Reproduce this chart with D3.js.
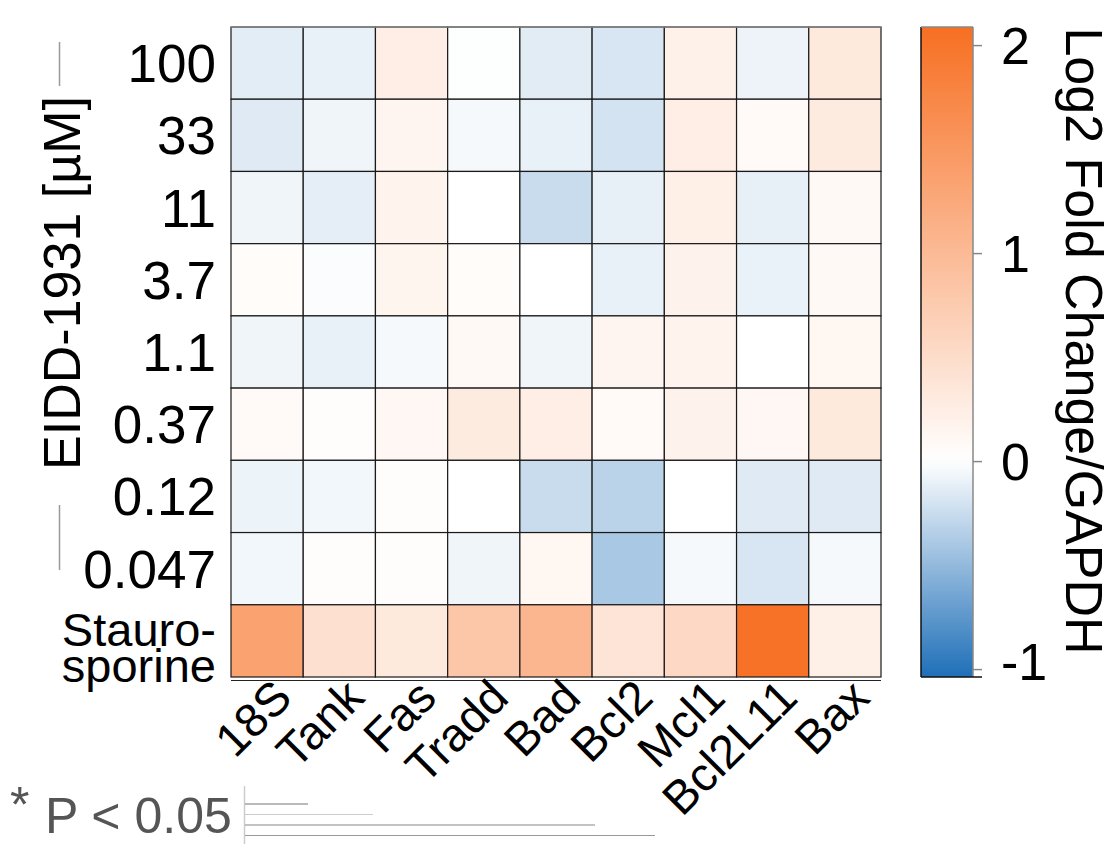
<!DOCTYPE html>
<html><head><meta charset="utf-8">
<script src="https://cdn.jsdelivr.net/npm/d3@7"></script>
<style>body{margin:0;background:#fff}svg{display:block}text{font-family:"Liberation Sans",Arial,sans-serif}</style>
</head><body><svg id="c" width="1116" height="844"></svg>
<script>
const genes = ["18S","Tank","Fas","Tradd","Bad","Bcl2","Mcl1","Bcl2L11","Bax"];
const doses = ["100","33","11","3.7","1.1","0.37","0.12","0.047","Staurosporine"];
const v100   = [-0.13,-0.10, 0.25,-0.01,-0.14,-0.18, 0.21,-0.085,0.32];
const v33    = [-0.15,-0.07, 0.14,-0.045,-0.10,-0.20,0.24, 0.08, 0.29];
const v11    = [-0.07,-0.12, 0.17, 0.00,-0.25,-0.11, 0.23,-0.11, 0.09];
const v3_7   = [ 0.05,-0.02, 0.15, 0.05, 0.00,-0.10, 0.18,-0.095,0.09];
const v1_1   = [-0.07,-0.10,-0.04, 0.09,-0.07, 0.14, 0.17, 0.00, 0.12];
const v0_37  = [ 0.07, 0.03, 0.11, 0.29, 0.25, 0.07, 0.18, 0.11, 0.32];
const v0_12  = [-0.09,-0.06, 0.03, 0.00,-0.25,-0.32, 0.00,-0.15,-0.15];
const v0_047 = [-0.06, 0.03, 0.03,-0.07, 0.12,-0.40,-0.04,-0.18,-0.04];
const vStauro= [ 1.35, 0.45, 0.32, 0.81, 1.06, 0.39, 0.55, 2.04, 0.23];
const rows = [v100,v33,v11,v3_7,v1_1,v0_37,v0_12,v0_047,vStauro];
const cbTicks = [2,1,0,-1];
const cbDomain = [-1.038, 2.087];
const sigLineEnds = [308, 373, 595, 655];

const svg = d3.select("#c");
const x = d3.scaleBand().domain(genes).range([231, 881]);
const y = d3.scaleBand().domain(doses).range([27, 677]);
const color = d3.scaleLinear().domain([cbDomain[0],0,cbDomain[1]]).range(["#1f6fb8","#ffffff","#f76f22"]);

const cells = [];
rows.forEach((r,i)=>r.forEach((v,j)=>cells.push({d:doses[i],g:genes[j],v})));
svg.append("g").selectAll("rect").data(cells).join("rect")
  .attr("x",d=>x(d.g)).attr("y",d=>y(d.d))
  .attr("width",x.bandwidth()).attr("height",y.bandwidth())
  .attr("fill",d=>color(d.v)).attr("stroke","#1a1a1a").attr("stroke-width",1.2);
svg.append("line").attr("x1",231).attr("x2",881).attr("y1",27).attr("y2",27).attr("stroke","#888").attr("stroke-width",1.5);
svg.append("line").attr("x1",231).attr("x2",881).attr("y1",680.5).attr("y2",680.5).attr("stroke","#222").attr("stroke-width",1.2);

// y labels
const yl = svg.append("g");
doses.slice(0,8).forEach(d=>{
  yl.append("text").attr("x",216).attr("y",y(d)+y.bandwidth()/2+19)
    .attr("text-anchor","end").attr("font-size",53).text(d);
});
const st = yl.append("text").attr("text-anchor","end").attr("font-size",47);
st.append("tspan").attr("x",216).attr("y",646).text("Stauro-");
st.append("tspan").attr("x",216).attr("y",682).text("sporine");

// y title
svg.append("text").attr("transform","translate(80,283) rotate(-90)").attr("text-anchor","middle")
  .attr("font-size",52).text("EIDD-1931 [µM]");
svg.append("line").attr("x1",59.5).attr("x2",59.5).attr("y1",42).attr("y2",86).attr("stroke","#999").attr("stroke-width",1.5);
svg.append("line").attr("x1",59.5).attr("x2",59.5).attr("y1",505).attr("y2",570).attr("stroke","#999").attr("stroke-width",1.5);

// x labels
genes.forEach(g=>{
  svg.append("text").attr("transform",`translate(${x(g)+x.bandwidth()/2+27},700) rotate(-45)`)
    .attr("text-anchor","end").attr("font-size",47).text(g);
});

// colorbar
const cbY = d3.scaleLinear().domain(cbDomain).range([677,27]);
const defs = svg.append("defs");
const grad = defs.append("linearGradient").attr("id","cg").attr("x1",0).attr("x2",0).attr("y1",1).attr("y2",0);
d3.range(0,1.0001,0.02).forEach(t=>{
  const v = cbDomain[0]+t*(cbDomain[1]-cbDomain[0]);
  grad.append("stop").attr("offset",t).attr("stop-color",color(v));
});
svg.append("rect").attr("x",921).attr("y",27).attr("width",52).attr("height",650).attr("fill","url(#cg)");
svg.append("line").attr("x1",921).attr("x2",921).attr("y1",27).attr("y2",677).attr("stroke","#111").attr("stroke-width",1.5);
svg.append("line").attr("x1",973).attr("x2",973).attr("y1",27).attr("y2",677).attr("stroke","#888").attr("stroke-width",1.5);
svg.append("line").attr("x1",921).attr("x2",973).attr("y1",27).attr("y2",27).attr("stroke","#888").attr("stroke-width",1.5);
svg.append("line").attr("x1",921).attr("x2",982).attr("y1",677).attr("y2",677).attr("stroke","#111").attr("stroke-width",1.5);
const cba = d3.axisRight(cbY).tickValues(cbTicks).tickSize(9).tickFormat(d3.format("d"));
const ag = svg.append("g").attr("transform","translate(973,0)").call(cba);
ag.select(".domain").remove();
ag.selectAll(".tick line").attr("stroke","#888").attr("stroke-width",1.5);
ag.selectAll(".tick text").attr("font-size",52).attr("fill","#000").attr("x",28).attr("dy","0.36em")
  .attr("font-family","Liberation Sans, Arial, sans-serif").text(d=>d<0?"-"+Math.abs(d):d);
ag.selectAll(".tick").filter(d=>d===-1).select("text").attr("dy","0.2em");
svg.append("text").attr("transform","translate(1066,341) rotate(90)").attr("text-anchor","middle")
  .attr("font-size",52).text("Log2 Fold Change/GAPDH");

// significance legend
svg.append("text").attr("x",10).attr("y",822).attr("font-size",50).attr("fill","#555").text("*");
svg.append("text").attr("x",45).attr("y",833).attr("font-size",50).attr("fill","#555").text("P < 0.05");
svg.append("line").attr("x1",244.5).attr("x2",244.5).attr("y1",786).attr("y2",844).attr("stroke","#ccc").attr("stroke-width",1.5);
const lc = ["#777","#ccc","#888","#999"];
sigLineEnds.forEach((e,i)=>{
  svg.append("line").attr("x1",245).attr("x2",e).attr("y1",804+i*10.5).attr("y2",804+i*10.5)
    .attr("stroke",lc[i]).attr("stroke-width",1.2);
});
</script></body></html>
